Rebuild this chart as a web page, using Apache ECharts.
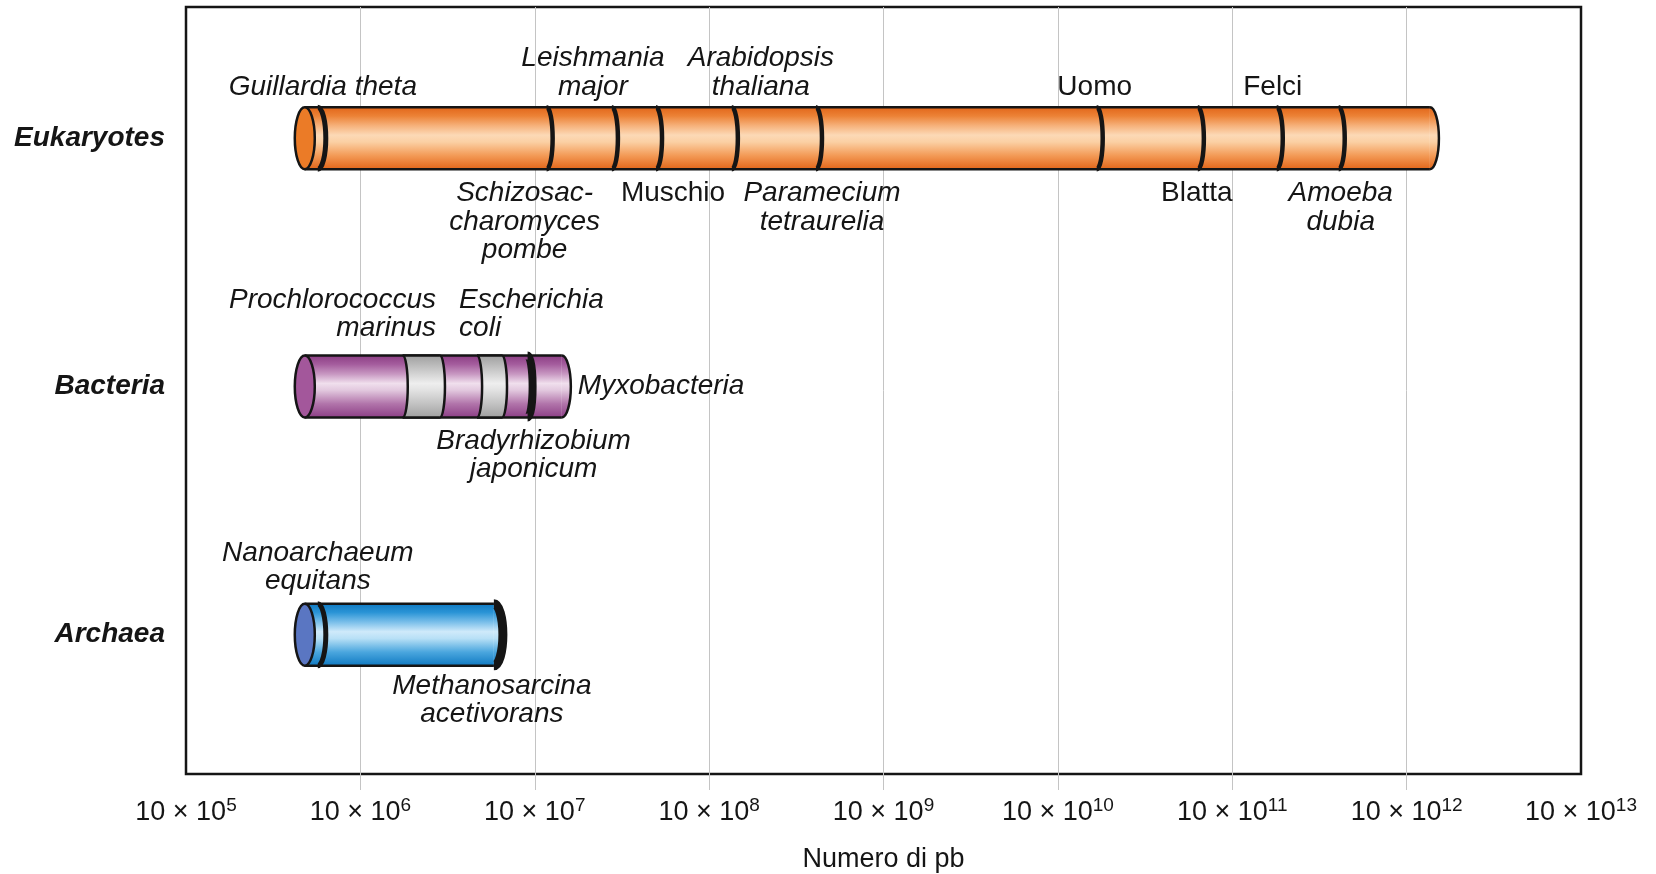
<!DOCTYPE html>
<html>
<head>
<meta charset="utf-8">
<script src="https://cdn.jsdelivr.net/npm/echarts@6/dist/echarts.min.js"></script>
<style>
  html, body { margin: 0; padding: 0; background: #fff; }
  #chart { width: 1656px; height: 874px; }
</style>
</head>
<body>
<div id="chart"></div>
<script>
const rowNames = ["Eukaryotes", "Bacteria", "Archaea"];
const rowStart = [4.8e6, 4.8e6, 4.8e6];
const rowEnd = [1.36e13, 1.43e8, 5.83e7];

const eukNames = ["Guillardia theta", "Schizosac-\ncharomyces\npombe", "Leishmania\nmajor", "Muschio",
  "Arabidopsis\nthaliana", "Paramecium\ntetraurelia", "Uomo", "Blatta", "Felci", "Amoeba\ndubia"];
const eukSizes = [5.7e6, 1.17e8, 2.77e8, 4.96e8, 1.35e9, 4.1e9, 1.67e11, 6.35e11, 1.8e12, 4.08e12];

const bacNames = ["Prochlorococcus\nmarinus", "Escherichia\ncoli", "Bradyrhizobium\njaponicum", "Myxobacteria"];
const bacSizes = [2.86e7, 4.67e7, 9.1e7, 1.43e8];
// grey bands on the bacteria cylinder
const bacGreyFrom = [1.75e7, 4.67e7];
const bacGreyTo = [2.86e7, 6.49e7];

const arcNames = ["Nanoarchaeum\nequitans", "Methanosarcina\nacetivorans"];
const arcSizes = [5.7e6, 5.83e7];

// tick labels read "10 × 10^n"
const tickExponents = [5, 6, 7, 8, 9, 10, 11, 12, 13];

const markNames = [eukNames, bacNames, arcNames];
const markSizes = [eukSizes, bacSizes, arcSizes];

// look of the marks and labels
const INK = "#151515";
const FONT = "'Liberation Sans', Arial, Helvetica, sans-serif";
const CYL_H = 62;
const gapTop = [6, 13, 8];
const gapBottom = [10, 9, 6];

const markLook = [
  [
    { side: "top", dx: 5, italic: true, arc: [5, 8] },
    { side: "bottom", dx: -22, italic: true, arc: [4.5, 6] },
    { side: "top", dx: -19, italic: true, arc: [4.5, 6] },
    { side: "bottom", dx: 17, italic: false, arc: [4.5, 6] },
    { side: "top", dx: 29, italic: true, arc: [4.5, 6] },
    { side: "bottom", dx: 6, italic: true, arc: [4.5, 6] },
    { side: "top", dx: -2, italic: false, arc: [4.5, 6] },
    { side: "bottom", dx: -1, italic: false, arc: [4.5, 6] },
    { side: "top", dx: -4, italic: false, arc: [4.5, 6] },
    { side: "bottom", dx: 2, italic: true, arc: [4.5, 6] },
  ],
  [
    { side: "top", dx: -4, align: "right", italic: true },
    { side: "top", dx: -18, align: "left", italic: true },
    { side: "bottom", dx: 6, italic: true, arc: [8, 5] },
    { side: "right", dx: 16, align: "left", italic: true },
  ],
  [
    { side: "top", dx: 0, italic: true, arc: [5, 8] },
    { side: "bottom", dx: -2, italic: true, arc: [9, 9] },
  ],
];

const rowLook = [
  {
    cap: "#eb7b27",
    stops: ["#e2661a", "#ec8236", "#f6b27c", "#fcd9b6", "#fbd0a4", "#f39a56", "#e2661a"],
  },
  {
    cap: "#a3579b",
    stops: ["#8c3e84", "#a45c9d", "#c898c2", "#f0dfed", "#e2c8de", "#b174aa", "#8c3f86"],
  },
  {
    cap: "#5a76c2",
    stops: ["#107ac2", "#2a94d6", "#7cc0ea", "#cfeafa", "#b8e0f6", "#4aa6de", "#107ac2"],
  },
];
const greyStops = ["#a0a0a0", "#b8b8b8", "#d4d4d4", "#eeeeee", "#e2e2e2", "#c2c2c2", "#a0a0a0"];
const stopAt = [0, 0.14, 0.3, 0.45, 0.56, 0.78, 1];

const grad = (colors) =>
  new echarts.graphic.LinearGradient(0, 0, 0, 1, colors.map((c, i) => ({ offset: stopAt[i], color: c })));

const arcPath = (x, top, bot, rx, ry) => `M${x} ${top} A${rx} ${ry} 0 0 1 ${x} ${bot}`;

function renderCylinder(params, api) {
  const row = api.value(0);
  const a = api.coord([api.value(1), row]);
  const b = api.coord([api.value(2), row]);
  const r = CYL_H / 2;
  const top = a[1] - r;
  const bot = a[1] + r;
  const look = rowLook[row];
  return {
    type: "group",
    children: [
      { type: "rect", shape: { x: a[0], y: top, width: b[0] - a[0], height: CYL_H }, style: { fill: grad(look.stops) } },
      { type: "path", shape: { pathData: arcPath(b[0], top, bot, 9, r) + " Z" }, style: { fill: grad(look.stops) } },
      { type: "path", shape: { pathData: arcPath(b[0], top, bot, 9, r) }, style: { fill: "none", stroke: INK, lineWidth: 2.5 } },
      { type: "line", shape: { x1: a[0], y1: top, x2: b[0], y2: top }, style: { stroke: INK, lineWidth: 2.5 } },
      { type: "line", shape: { x1: a[0], y1: bot, x2: b[0], y2: bot }, style: { stroke: INK, lineWidth: 2.5 } },
      { type: "ellipse", shape: { cx: a[0], cy: a[1], rx: 10, ry: r }, style: { fill: look.cap, stroke: INK, lineWidth: 2.5 } },
    ],
  };
}

function renderBand(params, api) {
  const row = api.value(0);
  const a = api.coord([api.value(1), row]);
  const b = api.coord([api.value(2), row]);
  const r = CYL_H / 2;
  const top = a[1] - r;
  const bot = a[1] + r;
  const bulge = 5;
  return {
    type: "group",
    children: [
      {
        type: "path",
        shape: { pathData: `M${a[0]} ${top} A${bulge} ${r} 0 0 1 ${a[0]} ${bot} L${b[0]} ${bot} A${bulge} ${r} 0 0 0 ${b[0]} ${top} Z` },
        style: { fill: grad(greyStops) },
      },
      { type: "path", shape: { pathData: arcPath(a[0], top, bot, bulge, r) }, style: { fill: "none", stroke: INK, lineWidth: 2.5 } },
      { type: "path", shape: { pathData: arcPath(b[0], top, bot, bulge, r) }, style: { fill: "none", stroke: INK, lineWidth: 2.5 } },
      { type: "line", shape: { x1: a[0], y1: top, x2: b[0], y2: top }, style: { stroke: INK, lineWidth: 2.5 } },
      { type: "line", shape: { x1: a[0], y1: bot, x2: b[0], y2: bot }, style: { stroke: INK, lineWidth: 2.5 } },
    ],
  };
}

function renderMark(params, api) {
  const row = api.value(0);
  const idx = api.value(2);
  const p = api.coord([api.value(1), row]);
  const look = markLook[row][idx];
  const r = CYL_H / 2;
  const top = p[1] - r;
  const bot = p[1] + r;
  const children = [];
  if (look.arc) {
    children.push({
      type: "path",
      shape: { pathData: arcPath(p[0], top, bot, look.arc[1], r) },
      style: { fill: "none", stroke: INK, lineWidth: look.arc[0] },
    });
  }
  let y = p[1];
  let va = "middle";
  if (look.side === "top") { y = top - gapTop[row]; va = "bottom"; }
  if (look.side === "bottom") { y = bot + gapBottom[row]; va = "top"; }
  children.push({
    type: "text",
    style: {
      text: markNames[row][idx],
      x: p[0] + look.dx,
      y: y,
      align: look.align || "center",
      verticalAlign: va,
      fill: INK,
      fontSize: 28,
      lineHeight: 28.5,
      fontFamily: FONT,
      fontStyle: look.italic ? "italic" : "normal",
    },
  });
  return { type: "group", children };
}

const cylData = rowNames.map((n, i) => [i, rowStart[i], rowEnd[i]]);
const bandData = bacGreyFrom.map((v, i) => [1, v, bacGreyTo[i]]);
const markData = [];
markSizes.forEach((sizes, row) => sizes.forEach((v, i) => markData.push([row, v, i])));

// "10 x 10^n" = 10^(n+1)
const tickValues = tickExponents.map((e) => Math.pow(10, e + 1));

const chart = echarts.init(document.getElementById("chart"));
chart.setOption({
  animation: false,
  grid: {
    left: 186, right: 75, top: 7, bottom: 100,
    outerBoundsMode: "none",
    show: true, borderColor: INK, borderWidth: 2.5, backgroundColor: "#fff",
  },
  xAxis: {
    type: "log",
    logBase: 10,
    min: tickValues[0],
    max: tickValues[tickValues.length - 1],
    interval: 1,
    name: "Numero di pb",
    nameLocation: "middle",
    nameGap: 72,
    nameTextStyle: { fontSize: 27, color: INK, fontFamily: FONT },
    axisLine: { show: false, onZero: false },
    axisTick: {
      show: true,
      length: 16,
      customValues: tickValues.slice(1, -1),
      lineStyle: { color: "#c4c4c4", width: 1 },
    },
    splitLine: { show: true, showMinLine: true, showMaxLine: true, lineStyle: { color: "#c4c4c4", width: 1 } },
    axisLabel: {
      margin: 22,
      color: INK,
      fontFamily: FONT,
      showMinLabel: true,
      showMaxLabel: true,
      formatter: (v) => `{b|10 × 10}{s|${Math.round(Math.log10(v)) - 1}}`,
      rich: {
        b: { fontSize: 27, lineHeight: 30, verticalAlign: "bottom", fontFamily: FONT, color: INK },
        s: { fontSize: 19, lineHeight: 30, verticalAlign: "top", fontFamily: FONT, color: INK },
      },
    },
  },
  yAxis: {
    type: "value",
    inverse: true,
    min: -0.5287,
    max: 2.5609,
    axisLine: { show: false, onZero: false },
    axisTick: { show: false },
    splitLine: { show: false },
    axisLabel: {
      customValues: [0, 1, 2],
      formatter: (v) => rowNames[Math.round(v)] || "",
      margin: 21,
      fontSize: 28,
      fontWeight: "bold",
      fontStyle: "italic",
      fontFamily: FONT,
      color: INK,
    },
  },
  series: [
    { type: "custom", name: "cylinders", renderItem: renderCylinder, data: cylData, encode: { x: [1, 2], y: 0 }, z: 2 },
    { type: "custom", name: "bands", renderItem: renderBand, data: bandData, encode: { x: [1, 2], y: 0 }, z: 3 },
    { type: "custom", name: "marks", renderItem: renderMark, data: markData, encode: { x: 1, y: 0 }, z: 4 },
  ],
});
</script>
</body>
</html>
